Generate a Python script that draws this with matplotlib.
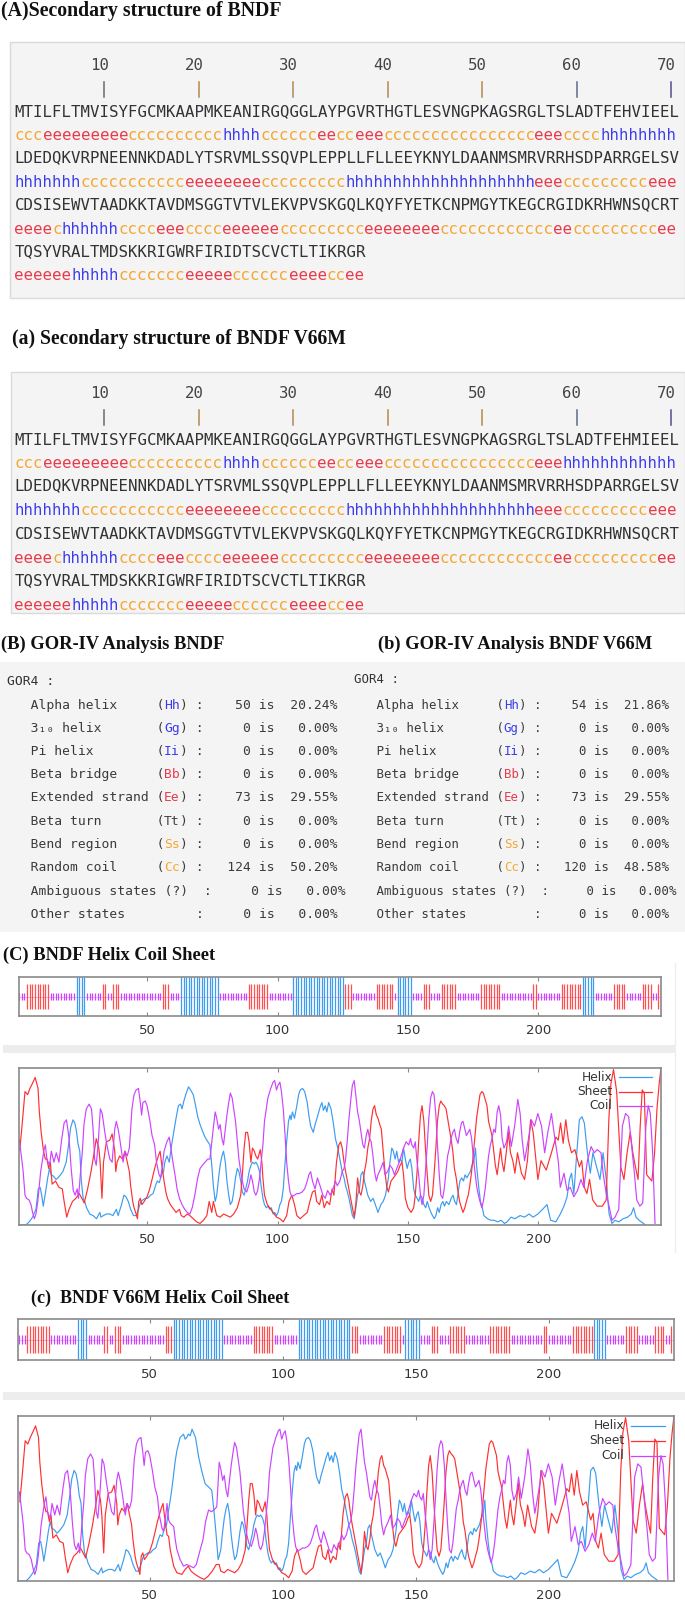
# Secondary structure / GOR-IV summary figure for BNDF and the V66M variant
import numpy as np
import matplotlib.pyplot as plt
from matplotlib.patches import Rectangle

# ---------------- data ----------------
seq_bndf = ["MTILFLTMVISYFGCMKAAPMKEANIRGQGGLAYPGVRTHGTLESVNGPKAGSRGLTSLADTFEHVIEEL",
            "LDEDQKVRPNEENNKDADLYTSRVMLSSQVPLEPPLLFLLEEYKNYLDAANMSMRVRRHSDPARRGELSV",
            "CDSISEWVTAADKKTAVDMSGGTVTVLEKVPVSKGQLKQYFYETKCNPMGYTKEGCRGIDKRHWNSQCRT",
            "TQSYVRALTMDSKKRIGWRFIRIDTSCVCTLTIKRGR"]
seq_v66m = ["MTILFLTMVISYFGCMKAAPMKEANIRGQGGLAYPGVRTHGTLESVNGPKAGSRGLTSLADTFEHMIEEL",
            "LDEDQKVRPNEENNKDADLYTSRVMLSSQVPLEPPLLFLLEEYKNYLDAANMSMRVRRHSDPARRGELSV",
            "CDSISEWVTAADKKTAVDMSGGTVTVLEKVPVSKGQLKQYFYETKCNPMGYTKEGCRGIDKRHWNSQCRT",
            "TQSYVRALTMDSKKRIGWRFIRIDTSCVCTLTIKRGR"]

ss_bndf = ["ccc" "eeeeeeeee" "cccccccccc" "hhhh" "cccccc" "ee" "cc" "eee"
           "cccccccccccccccc" "eee" "cccc" "hhhhhhhh",
           "hhhhhhh" "ccccccccccc" "eeeeeeee" "ccccccccc" "hhhhhhhhhhhhhhhhhhhh"
           "eee" "ccccccccc" "eee",
           "eeee" "c" "hhhhhh" "cccc" "eee" "cccc" "eeeeee" "ccccccccc" "eeeeeeee"
           "cccccccccccc" "ee" "ccccccccc" "ee",
           "eeeeee" "hhhhh" "ccccccc" "eeeee" "cccccc" "eeee" "cc" "ee"]
ss_v66m = ["ccc" "eeeeeeeee" "cccccccccc" "hhhh" "cccccc" "ee" "cc" "eee"
           "cccccccccccccccc" "eee" "hhhhhhhhhhhh",
           ss_bndf[1], ss_bndf[2], ss_bndf[3]]

ruler_pos = [10, 20, 30, 40, 50, 60, 70]

gor_names = ["Alpha helix", "3\u2081\u2080 helix", "Pi helix", "Beta bridge", "Extended strand",
             "Beta turn", "Bend region", "Random coil", "Ambiguous states", "Other states"]
gor_codes = ["Hh", "Gg", "Ii", "Bb", "Ee", "Tt", "Ss", "Cc", "?", ""]
gor_n_bndf = [50, 0, 0, 0, 73, 0, 0, 124, 0, 0]
gor_pct_bndf = [20.24, 0, 0, 0, 29.55, 0, 0, 50.20, 0, 0]
gor_n_v66m = [54, 0, 0, 0, 73, 0, 0, 120, 0, 0]
gor_pct_v66m = [21.86, 0, 0, 0, 29.55, 0, 0, 48.58, 0, 0]

# probability traces (residue, value)
helix_pts_bndf = [
    (1.0, .0), (3.5, .0), (4.8, .02), (6.1, .05), (7.4, .10), (8.3, .23), (9.0, .24), (9.6, .19), (10.2, .12),
    (11.0, .20), (11.9, .30), (12.6, .36), (13.2, .32), (14.2, .31), (15.1, .29), (15.8, .30), (16.8, .32),
    (17.7, .34), (19.0, .40), (19.9, .51), (20.7, .62), (21.6, .67), (22.3, .65), (22.9, .60), (23.5, .52),
    (24.2, .47), (24.8, .28), (25.5, .17), (26.1, .15), (26.8, .11), (28.0, .07), (29.3, .06), (30.6, .04),
    (31.9, .08), (32.3, .05), (33.2, .06), (34.5, .07), (35.8, .07), (36.9, .06), (38.2, .10), (38.9, .06),
    (40.2, .13), (41.1, .19), (41.9, .18), (42.8, .15), (43.7, .10), (44.8, .06), (45.8, .06), (46.7, .10),
    (47.6, .15), (48.4, .16), (49.3, .17), (50.2, .17), (51.3, .19), (52.3, .20), (53.2, .25), (53.9, .28),
    (54.7, .27), (55.5, .32), (56.3, .34), (56.8, .40), (57.6, .44), (58.5, .40), (59.4, .51), (60.2, .59),
    (61.1, .68), (62.0, .76), (62.8, .77), (63.4, .74), (64.1, .79), (65.0, .84), (65.9, .88), (66.7, .86),
    (67.7, .83), (68.6, .76), (69.4, .69), (70.3, .64), (71.2, .60), (72.2, .56), (73.3, .53), (74.1, .51),
    (74.8, .38), (75.4, .25), (76.1, .15), (76.7, .19), (77.4, .30), (78.0, .38), (78.7, .44), (79.3, .47),
    (80.0, .40), (80.6, .28), (81.3, .19), (81.9, .13), (82.6, .15), (83.2, .21), (83.9, .30), (84.6, .36),
    (85.2, .34), (85.9, .28), (86.5, .21), (87.2, .19), (87.8, .23), (88.5, .28), (89.1, .34), (89.8, .38),
    (90.4, .40), (91.1, .39), (91.7, .40), (92.4, .38), (93.1, .34), (93.7, .25), (94.4, .17), (95.0, .13),
    (95.7, .11), (96.3, .12), (97.0, .10), (97.6, .11), (98.3, .07), (98.9, .08), (99.6, .06), (100.2, .08),
    (100.9, .13), (101.5, .15), (102.2, .23), (102.9, .40), (103.5, .53), (104.2, .66), (104.8, .70),
    (105.2, .67), (105.7, .72), (106.5, .68), (107.4, .76), (108.1, .83), (108.7, .86), (109.6, .87),
    (110.4, .85), (111.4, .78), (112.0, .70), (112.7, .63), (113.7, .59), (114.4, .64), (115.3, .69),
    (116.3, .75), (117.0, .78), (117.6, .73), (118.3, .76), (118.9, .72), (119.6, .78), (120.5, .74),
    (121.3, .66), (122.2, .55), (123.1, .49), (123.9, .42), (124.8, .34), (125.5, .30), (126.1, .25),
    (126.8, .21), (127.4, .17), (128.1, .11), (128.7, .06), (129.4, .04), (130.0, .11), (130.7, .19),
    (131.4, .23), (132.0, .32), (132.7, .34), (133.3, .28), (134.0, .23), (134.6, .19), (135.7, .15),
    (136.6, .17), (137.5, .13), (138.5, .08), (139.6, .13), (140.5, .15), (141.4, .19), (142.5, .30),
    (143.1, .40), (143.8, .49), (144.4, .47), (145.1, .42), (145.7, .47), (146.4, .40), (147.0, .42),
    (147.7, .40), (148.3, .49), (149.0, .42), (149.7, .36), (150.3, .40), (150.9, .42), (151.5, .36),
    (152.2, .23), (152.8, .19), (153.5, .17), (154.1, .15), (154.8, .19), (155.5, .17), (156.1, .13),
    (156.8, .11), (157.4, .15), (158.1, .11), (158.8, .08), (159.4, .06), (160.1, .04), (160.7, .06),
    (161.4, .11), (162.0, .08), (162.7, .13), (163.4, .15), (164.0, .12), (164.7, .15), (165.7, .13),
    (166.6, .17), (167.3, .19), (167.9, .15), (168.6, .13), (169.3, .21), (169.9, .28), (170.6, .30),
    (171.3, .28), (171.9, .32), (172.6, .30), (173.2, .32), (173.9, .34), (174.5, .38), (175.2, .40),
    (175.9, .49), (176.3, .38), (177.2, .23), (177.8, .15), (178.5, .11), (179.1, .06), (180.5, .04),
    (181.8, .03), (183.1, .03), (184.4, .02), (185.7, .03), (187.0, .01), (188.0, .02), (189.5, .05),
    (191.0, .04), (193.0, .06), (194.7, .05), (196.4, .07), (198.0, .05), (199.8, .07), (201.6, .10),
    (203.3, .13), (204.7, .03), (206.7, .02), (208.4, .07), (209.8, .12), (211.0, .18), (211.9, .29),
    (212.7, .33), (213.6, .20), (214.5, .41), (215.7, .67), (216.7, .69), (217.6, .65), (218.8, .46),
    (219.9, .33), (220.9, .46), (222.3, .37), (223.6, .29), (224.8, .46), (226.0, .29), (227.1, .07),
    (228.2, .01), (229.4, .03), (230.8, .02), (232.5, .04), (234.2, .05), (235.6, .07), (236.5, .11),
    (237.4, .05), (238.6, .03), (240.3, .01), (241.0, .0)]

sheet_pts_bndf = [
    (1.2, .48), (2.1, .64), (3.2, .85), (4.2, .83), (5.1, .87), (6.0, .90), (7.1, .94), (8.2, .87), (8.7, .72),
    (9.4, .59), (10.3, .47), (11.0, .42), (11.6, .42), (12.3, .36), (12.9, .40), (13.6, .26), (14.9, .28),
    (16.2, .24), (17.5, .23), (18.2, .15), (19.2, .05), (20.1, .10), (21.4, .15), (22.7, .17), (24.0, .20),
    (25.3, .16), (25.9, .14), (27.2, .23), (28.5, .34), (29.8, .47), (30.5, .55), (31.5, .49), (32.0, .40),
    (32.7, .17), (33.3, .40), (34.4, .53), (35.7, .54), (36.6, .58), (37.6, .47), (38.0, .34), (38.5, .40),
    (39.5, .44), (40.6, .42), (41.5, .47), (42.4, .40), (43.2, .34), (43.7, .25), (44.5, .15), (45.0, .11),
    (45.8, .07), (46.3, .04), (46.8, .15), (47.4, .17), (48.0, .13), (48.9, .15), (50.0, .18), (51.0, .23),
    (51.9, .29), (52.9, .36), (53.6, .40), (54.3, .44), (55.0, .47), (55.5, .40), (56.0, .34), (56.5, .28),
    (57.2, .21), (57.8, .17), (58.9, .13), (59.8, .11), (61.1, .08), (62.4, .10), (63.1, .06), (64.1, .05),
    (65.4, .07), (66.4, .06), (67.7, .04), (69.0, .02), (70.3, .01), (71.6, .03), (72.9, .06), (73.8, .15),
    (74.8, .08), (75.4, .15), (76.1, .10), (76.7, .06), (78.0, .05), (79.3, .07), (80.6, .06), (81.9, .05),
    (83.2, .07), (84.6, .11), (85.9, .19), (86.5, .32), (87.2, .49), (87.8, .59), (88.5, .59), (89.1, .53),
    (89.8, .40), (90.4, .49), (91.1, .47), (91.7, .44), (92.4, .42), (93.4, .48), (94.0, .40), (94.4, .30),
    (95.0, .19), (96.1, .13), (97.0, .11), (98.3, .08), (99.6, .05), (100.9, .04), (102.2, .02), (103.5, .06),
    (104.4, .15), (105.5, .19), (106.5, .13), (107.4, .06), (108.7, .04), (110.0, .06), (111.4, .08),
    (112.4, .15), (113.4, .21), (114.4, .22), (115.0, .15), (116.1, .13), (117.0, .19), (117.9, .11),
    (118.9, .15), (120.0, .13), (120.9, .23), (121.6, .19), (122.6, .40), (123.5, .51), (124.2, .53),
    (124.8, .49), (125.5, .40), (126.1, .34), (126.8, .28), (127.8, .19), (128.7, .11), (129.4, .05),
    (130.0, .13), (130.7, .30), (131.4, .21), (132.0, .19), (132.7, .25), (133.3, .34), (134.0, .40),
    (134.6, .49), (135.3, .55), (135.9, .66), (136.6, .74), (137.2, .76), (137.9, .70), (138.5, .68),
    (139.2, .64), (139.8, .61), (140.5, .47), (141.2, .34), (141.8, .25), (142.5, .21), (143.5, .28),
    (144.4, .30), (145.3, .32), (146.1, .34), (147.0, .38), (147.7, .40), (148.3, .32), (149.0, .17),
    (150.0, .11), (151.2, .08), (152.2, .11), (152.8, .19), (153.5, .34), (154.1, .53), (154.8, .70),
    (155.4, .76), (156.1, .66), (156.7, .49), (157.4, .32), (158.0, .19), (158.7, .15), (159.4, .19),
    (160.0, .32), (160.7, .49), (161.3, .66), (162.0, .76), (162.6, .79), (163.3, .77), (163.9, .76),
    (164.6, .74), (165.2, .68), (165.9, .61), (166.5, .55), (167.2, .47), (167.8, .36), (168.5, .30),
    (169.2, .21), (169.8, .15), (170.5, .11), (171.1, .08), (171.8, .11), (172.4, .15), (173.1, .19),
    (173.7, .25), (174.4, .34), (175.0, .44), (175.7, .57), (176.3, .68), (177.0, .76), (177.6, .83),
    (178.3, .85), (178.9, .84), (179.6, .80), (180.3, .76), (180.9, .66), (181.6, .61), (182.2, .57),
    (182.9, .47), (183.5, .38), (184.2, .32), (184.8, .40), (185.5, .49), (186.1, .40), (186.8, .34),
    (187.6, .45), (188.5, .59), (189.3, .46), (190.2, .41), (191.0, .33), (192.0, .46), (193.5, .33),
    (194.7, .29), (195.8, .41), (197.0, .67), (198.0, .59), (199.8, .29), (201.0, .41), (203.0, .35),
    (205.0, .46), (206.7, .56), (207.6, .54), (208.5, .65), (209.5, .52), (210.5, .67), (211.5, .54),
    (212.7, .46), (214.0, .48), (215.7, .37), (216.6, .41), (217.6, .24), (218.6, .20), (219.6, .29),
    (220.8, .16), (222.5, .12), (224.5, .12), (226.0, .16), (227.0, .67), (227.8, .90), (228.8, .99),
    (230.0, .85), (231.6, .37), (232.8, .29), (234.0, .46), (235.2, .59), (236.2, .46), (237.2, .37),
    (238.2, .29), (239.0, .62), (239.8, .86), (240.6, .84), (241.5, .32), (242.5, .30), (243.5, .28),
    (244.5, .45), (245.5, .75), (246.3, .90), (247.0, 1.0)]

coil_pts_bndf = [
    (1.0, .54), (1.8, .44), (2.5, .34), (3.2, .19), (3.8, .17), (4.7, .16), (5.5, .13), (6.1, .08), (6.8, .04),
    (7.4, .07), (8.1, .15), (9.2, .34), (10.5, .48), (11.0, .51), (11.6, .42), (12.6, .38), (13.3, .47),
    (14.3, .40), (15.2, .46), (16.2, .40), (17.3, .55), (18.2, .65), (19.1, .67), (20.1, .55), (20.9, .36),
    (21.7, .22), (22.4, .19), (23.2, .23), (23.7, .17), (24.5, .34), (25.2, .47), (25.8, .64), (26.7, .74),
    (27.8, .77), (28.7, .74), (29.3, .61), (29.9, .42), (30.5, .38), (31.2, .51), (32.1, .74), (32.8, .71),
    (33.8, .59), (34.6, .51), (35.7, .42), (36.6, .40), (37.6, .61), (38.2, .66), (38.9, .61), (39.5, .55),
    (40.2, .47), (40.8, .40), (41.5, .47), (42.4, .44), (43.2, .49), (43.7, .61), (44.2, .74), (45.0, .83),
    (45.8, .86), (46.7, .87), (47.4, .78), (47.9, .70), (48.4, .78), (49.3, .79), (50.0, .76), (51.0, .67),
    (51.9, .57), (52.9, .51), (53.6, .40), (54.6, .32), (55.2, .30), (55.9, .38), (56.5, .47), (57.6, .53),
    (58.5, .56), (59.1, .49), (59.9, .40), (60.7, .32), (61.5, .23), (62.4, .17), (63.4, .13), (64.4, .10),
    (65.4, .08), (66.4, .07), (67.3, .11), (68.3, .19), (69.4, .30), (70.3, .36), (71.2, .38), (72.2, .40),
    (73.3, .42), (74.1, .42), (75.4, .62), (76.1, .72), (76.7, .68), (77.4, .61), (78.0, .64), (78.7, .55),
    (79.3, .51), (80.0, .61), (80.6, .70), (81.3, .78), (81.9, .84), (82.6, .81), (83.2, .74), (83.9, .66),
    (84.6, .53), (85.2, .42), (85.9, .34), (86.5, .28), (87.2, .23), (88.2, .21), (89.1, .26), (89.8, .32),
    (90.4, .28), (91.1, .21), (91.7, .19), (92.4, .22), (93.1, .30), (93.7, .40), (94.4, .51), (95.0, .66),
    (95.7, .74), (96.3, .81), (97.4, .87), (98.3, .91), (98.9, .92), (99.6, .86), (100.2, .89), (100.9, .91),
    (101.5, .85), (102.2, .74), (102.9, .57), (103.5, .40), (104.2, .28), (104.8, .21), (105.5, .18),
    (106.5, .19), (107.4, .20), (108.3, .20), (109.4, .21), (110.4, .23), (111.4, .28), (112.0, .32),
    (112.7, .34), (113.4, .28), (114.4, .23), (115.3, .30), (116.3, .25), (117.4, .19), (118.3, .17),
    (119.2, .22), (120.2, .19), (121.3, .23), (122.2, .28), (122.9, .25), (123.9, .28), (124.8, .34),
    (125.5, .36), (126.1, .42), (126.8, .55), (127.4, .68), (128.1, .80), (128.7, .89), (129.4, .92),
    (130.0, .83), (130.7, .72), (131.4, .66), (132.0, .59), (132.7, .51), (133.3, .49), (134.0, .57),
    (134.6, .61), (135.3, .55), (135.9, .53), (136.6, .44), (137.2, .34), (137.9, .28), (138.5, .32),
    (139.6, .36), (140.5, .40), (141.2, .32), (142.2, .34), (143.1, .38), (144.0, .36), (144.8, .32),
    (145.7, .36), (146.7, .40), (147.4, .44), (148.3, .49), (149.3, .53), (150.3, .51), (151.0, .55),
    (151.5, .51), (152.2, .49), (152.8, .53), (153.5, .40), (154.1, .32), (154.8, .19), (155.4, .13),
    (156.1, .19), (156.7, .34), (157.4, .51), (158.0, .68), (158.7, .81), (159.4, .85), (160.0, .83),
    (160.7, .70), (161.3, .51), (162.0, .32), (162.6, .19), (163.3, .17), (163.9, .23), (164.6, .34),
    (165.2, .44), (165.9, .49), (166.5, .55), (167.2, .59), (167.8, .61), (168.5, .55), (169.2, .52),
    (169.8, .59), (170.5, .65), (171.1, .66), (171.8, .61), (172.4, .57), (173.1, .59), (173.7, .61),
    (174.4, .55), (175.0, .44), (175.7, .34), (176.3, .25), (177.0, .19), (177.6, .15), (178.3, .11),
    (178.9, .15), (179.6, .23), (180.3, .34), (180.9, .44), (181.6, .51), (182.2, .55), (182.9, .61),
    (183.5, .59), (184.2, .72), (184.8, .76), (185.5, .70), (186.1, .55), (186.8, .49), (187.8, .53),
    (188.6, .63), (189.6, .50), (190.9, .63), (192.1, .80), (193.0, .71), (193.8, .54), (194.7, .41),
    (196.1, .54), (197.3, .67), (198.5, .63), (199.8, .71), (201.2, .63), (202.4, .46), (203.6, .59),
    (205.0, .71), (206.4, .54), (207.6, .41), (208.4, .24), (209.8, .33), (211.0, .22), (212.2, .24),
    (213.6, .18), (215.0, .22), (216.3, .29), (217.4, .24), (218.8, .41), (220.2, .50), (221.4, .46),
    (222.6, .48), (224.0, .46), (224.8, .33), (226.0, .20), (227.1, .12), (228.2, .03), (229.4, .05),
    (230.8, .10), (232.2, .63), (233.4, .71), (234.6, .69), (236.0, .46), (236.8, .33), (237.7, .16),
    (238.9, .12), (240.0, .14), (241.2, .63), (242.1, .76), (242.9, .71), (243.8, .46), (244.7, .01)]

# V66M traces only differ around the mutation (panel c), read separately
v66m_window = (56.9, 76.0)
helix_pts_v66m = [(57.1, .43), (57.7, .49), (58.4, .57), (59.0, .65), (59.6, .73), (60.2, .79), (60.8, .83),
                  (61.4, .87), (62.1, .88), (62.7, .89), (63.3, .86), (63.9, .87), (64.5, .89), (65.2, .88),
                  (65.9, .92), (67.2, .87), (68.4, .75), (69.5, .67), (70.8, .59), (72.1, .57), (73.3, .55),
                  (74.1, .43), (74.9, .29), (75.7, .13)]
sheet_pts_v66m = [(57.1, .27), (57.7, .19), (59.0, .09), (60.2, .05), (62.1, .04), (63.3, .07), (64.5, .09),
                  (65.5, .06), (67.0, .04), (69.0, .02), (70.5, .01), (72.0, .03), (73.5, .06), (75.0, .10)]
coil_pts_v66m = [(57.1, .37), (57.7, .35), (59.0, .33), (59.6, .25), (60.2, .19), (61.4, .13), (62.7, .09),
                 (63.9, .10), (65.2, .09), (66.5, .08), (67.5, .10), (68.8, .18), (70.0, .25), (71.0, .36),
                 (72.1, .43), (73.2, .42), (74.1, .43), (75.2, .45)]

# ---------------- styling ----------------
W, H = 685, 1601
SERIF = 'Liberation Serif'
MONO = 'DejaVu Sans Mono'
SANS = 'DejaVu Sans'
ss_colors = {'c': '#f5a733', 'e': '#ea3a4a', 'h': '#3b3bea'}
code_colors = {'Hh': '#3b3bea', 'Gg': '#3b3bea', 'Ii': '#3b3bea', 'Bb': '#ea3a4a', 'Ee': '#ea3a4a',
               'Tt': '#444444', 'Ss': '#f5a733', 'Cc': '#f5a733'}
tick_cols = ['#6a6a6a', '#b48a4c', '#b08a58', '#b48a4c', '#b48a4c', '#5c6c88', '#5a4a90']
HELIX_C, SHEET_C, COIL_C = '#3d9cf0', '#ff3030', '#cc44ff'

fig = plt.figure(figsize=(W / 100, H / 100), dpi=100)
bg = fig.add_axes([0, 0, 1, 1])
bg.set_xlim(0, W)
bg.set_ylim(H, 0)
bg.axis('off')


def mono_width(fs):
    return fs * 100 / 72 * 0.6021


def mono(x, y, s, fs, color, ha='left'):
    bg.text(x, y, s, family=MONO, fontsize=fs, color=color, va='center', ha=ha)


def runs(s):
    # split a string into (start, run) pieces of equal characters
    out, start = [], 0
    for i in range(1, len(s) + 1):
        if i == len(s) or s[i] != s[start]:
            out.append((start, s[start:i]))
            start = i
    return out


def title(x, y, s, fs):
    bg.text(x, y, s, family=SERIF, weight='bold', fontsize=fs, va='center', ha='left', color='#111111')


def px_axes(x0, y0, x1, y1):
    return fig.add_axes([x0 / W, 1 - y1 / H, (x1 - x0) / W, (y1 - y0) / H])


# ---------------- panels A / a : sequence + prediction ----------------
FS_SEQ = 11.3
CW = mono_width(FS_SEQ)


def ss_panel(box, x0, y_rul, y_tick, y_rows, seqs, sss):
    bg.add_patch(Rectangle((box[0], box[1]), box[2] - box[0], box[3] - box[1],
                           facecolor='#f4f4f4', edgecolor='#dadada', lw=1))
    for p, c in zip(ruler_pos, tick_cols):
        mono(x0 + p * CW, y_rul, str(p), FS_SEQ, '#444444', ha='right')
        bg.plot([x0 + (p - 0.5) * CW] * 2, y_tick, color=c, lw=1.1)
    for k, (s, ss) in enumerate(zip(seqs, sss)):
        mono(x0, y_rows[2 * k], s, FS_SEQ, '#333333')
        for start, run in runs(ss):
            mono(x0 + start * CW, y_rows[2 * k + 1], run, FS_SEQ, ss_colors[run[0]])


title(1, 11, "(A)Secondary structure of BNDF", 14.3)
ss_panel((10, 42, 685, 298), 14.5, 65, (82, 97),
         [112, 135, 158, 182, 205, 229, 252, 275], seq_bndf, ss_bndf)

title(12, 339, "(a) Secondary structure of BNDF V66M", 14.1)
ss_panel((11, 372, 685, 613), 14.5, 393, (410, 425),
         [440, 463, 486, 510, 534, 558, 581, 605], seq_v66m, ss_v66m)

# ---------------- panels B / b : GOR4 tables ----------------
title(1, 644, "(B) GOR-IV Analysis BNDF", 13.3)
title(378, 644, "(b) GOR-IV Analysis BNDF V66M", 13.3)
bg.add_patch(Rectangle((0, 662), W, 270, facecolor='#f4f4f4', edgecolor='none'))

row_y = [705, 728, 751, 774, 797, 821, 844, 867.5, 891, 914]


def gor_table(x0, y_head, fs, counts, pcts):
    cw = mono_width(fs)
    mono(x0, y_head, "GOR4 :", fs, '#333333')
    for name, code, n, p, y in zip(gor_names, gor_codes, counts, pcts, row_y):
        if code == "?":
            row = "   " + name + " (?)  :"
        elif code == "":
            row = "   " + name.ljust(21) + ":"
        else:
            row = "   " + name.ljust(16) + "(" + code + ") :"
        row += f"{n:>6} is{p:>7.2f}%"
        if code in code_colors:
            mono(x0, y, row[:20], fs, '#3a3a3a')
            mono(x0 + 20 * cw, y, code, fs, code_colors[code])
            mono(x0 + 22 * cw, y, row[22:], fs, '#3a3a3a')
        else:
            mono(x0, y, row, fs, '#3a3a3a')


gor_table(7, 681, 9.4, gor_n_bndf, gor_pct_bndf)
gor_table(354, 679, 8.95, gor_n_v66m, gor_pct_v66m)


# ---------------- panels C / c : strip + probability traces ----------------
def style_axes(ax, xlim, ylim):
    ax.set_xlim(*xlim)
    ax.set_ylim(*ylim)
    ax.set_xticks([50, 100, 150, 200])
    ax.set_yticks([])
    ax.tick_params(axis='x', direction='in', top=True, length=3, width=0.8, color='#888888',
                   labelsize=9.5, labelcolor='#333333', pad=6)
    for lab in ax.get_xticklabels():
        lab.set_family(SANS)
    for sp in ax.spines.values():
        sp.set_color('#8a8a8a')
        sp.set_linewidth(1.2)


def strip_plot(box, ss, xlim):
    ax = px_axes(*box)
    ss = ''.join(ss)
    res = np.arange(1, len(ss) + 1)
    cls = np.array(list(ss))
    ax.axhline(0.5, color='#f2a6f2', lw=0.6, zorder=1)
    ax.vlines(res[cls == 'c'], 0.40, 0.60, colors=COIL_C, lw=0.9, zorder=2)
    ax.vlines(res[cls == 'e'], 0.17, 0.83, colors=SHEET_C, alpha=0.85, lw=0.9, zorder=2)
    ax.vlines(res[cls == 'h'], 0.0, 1.0, colors=HELIX_C, lw=0.9, zorder=2)
    style_axes(ax, xlim, (0, 1))


def splice(pts, win_pts, win):
    r, v = map(np.array, zip(*pts))
    rw, vw = map(np.array, zip(*win_pts))
    keep = (r < win[0]) | (r > win[1])
    rr = np.concatenate([r[keep], rw])
    vv = np.concatenate([v[keep], vw])
    o = np.argsort(rr)
    return rr[o], vv[o]


def trace_plot(box, helix, sheet, coil, xlim):
    ax = px_axes(*box)
    for (r, v), c in zip([helix, sheet, coil], [HELIX_C, SHEET_C, COIL_C]):
        ax.plot(r, v, color=c, lw=0.85)
    style_axes(ax, xlim, (0, 1))
    # gnuplot-like key: right-aligned label followed by a line sample
    for lab, c, yy in zip(["Helix", "Sheet", "Coil"], [HELIX_C, SHEET_C, COIL_C], [0.94, 0.85, 0.76]):
        ax.text(0.924, yy, lab, transform=ax.transAxes, ha='right', va='center',
                fontsize=8.8, family=SANS, color='#333333')
        ax.plot([0.935, 0.986], [yy, yy], transform=ax.transAxes, color=c, lw=0.9)


def pts(p):
    return tuple(map(np.array, zip(*p)))


title(3, 955, "(C) BNDF Helix Coil Sheet", 13.3)
strip_plot((19, 977, 661, 1016), ss_bndf, (0.9, 247))
bg.add_patch(Rectangle((3, 1045), 672, 8, facecolor='#ededed', edgecolor='none'))
bg.plot([675, 675], [963, 1252], color='#eeeeee', lw=1)
trace_plot((19, 1068, 661, 1225), pts(helix_pts_bndf), pts(sheet_pts_bndf), pts(coil_pts_bndf),
           (0.9, 247))

title(31, 1298, "(c)  BNDF V66M Helix Coil Sheet", 13.0)
strip_plot((18, 1319, 674, 1360), ss_v66m, (0.5, 247))
bg.add_patch(Rectangle((3, 1392), 682, 8, facecolor='#ededed', edgecolor='none'))
trace_plot((18, 1416, 674, 1581),
           splice(helix_pts_bndf, helix_pts_v66m, v66m_window),
           splice(sheet_pts_bndf, sheet_pts_v66m, v66m_window),
           splice(coil_pts_bndf, coil_pts_v66m, v66m_window),
           (0.5, 247))

fig.savefig("out.png", dpi=100)
